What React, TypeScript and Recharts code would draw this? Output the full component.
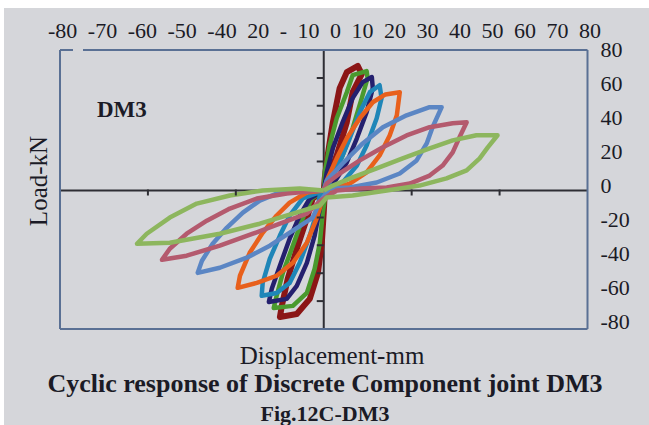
import { ComposedChart, Line, Scatter, XAxis, YAxis, ReferenceLine } from 'recharts'

// typed labels along the top of the figure (kept as printed, including the garbled ones)
const topLabels = ['-80', '-70', '-60', '-50', '-40', '20', '- 10', '0', '10', '20', '30', '40', '50', '60', '70', '80']
const loadTicks = [-80, -60, -40, -20, 0, 20, 40, 60, 80]

// small tick marks on the centre axes (original spreadsheet axis: +-60 mm, +-100 kN)
const innerTicksX = [-40, -20, 20, 40]
const innerTicksY = [-80, -60, -40, -20, 20, 40, 60, 80]

// hysteresis cycles, displacement (mm) / load (kN)
const cycle1 = [
  { x: 0, y: 0 }, { x: 0.3, y: 7.1 }, { x: 1.2, y: 20.6 }, { x: 2.8, y: 40.1 }, { x: 4.9, y: 60.2 },
  { x: 7.1, y: 69.6 }, { x: 10.5, y: 73.2 }, { x: 11.7, y: 68.4 }, { x: 8.9, y: 57.8 }, { x: 7.1, y: 40.1 },
  { x: 4, y: 20.6 }, { x: 1.2, y: 7.1 }, { x: 0.3, y: -2 }, { x: 0, y: -13 }, { x: -0.6, y: -30.7 },
  { x: -1.8, y: -48.4 }, { x: -4.3, y: -63.7 }, { x: -8.3, y: -72.6 }, { x: -13.5, y: -74.3 }, { x: -12.9, y: -67.8 },
  { x: -11.1, y: -51.9 }, { x: -8.3, y: -34.2 }, { x: -5.2, y: -16.5 }, { x: -3.4, y: -4.7 }, { x: 0, y: 0 },
]
const cycle2 = [
  { x: 0, y: 0 }, { x: 0.3, y: 10.6 }, { x: 1.8, y: 26.5 }, { x: 4, y: 42.5 }, { x: 7.1, y: 57.8 },
  { x: 8.9, y: 67.8 }, { x: 13.2, y: 70.2 }, { x: 13.5, y: 66.1 }, { x: 11.7, y: 54.3 }, { x: 8.9, y: 36.6 },
  { x: 5.8, y: 20.6 }, { x: 2.8, y: 8.8 }, { x: 0.5, y: -3 }, { x: -0.3, y: -13 }, { x: -1.2, y: -30.7 },
  { x: -2.8, y: -46 }, { x: -5.2, y: -60.2 }, { x: -9.5, y: -67.8 }, { x: -15.4, y: -69 }, { x: -14.5, y: -61.9 },
  { x: -12.6, y: -48.4 }, { x: -9.5, y: -32.4 }, { x: -6.5, y: -16.5 }, { x: -3.7, y: -4.7 }, { x: 0, y: 0 },
]
const cycle3 = [
  { x: 0, y: 0 }, { x: 0.9, y: 10.6 }, { x: 2.8, y: 24.8 }, { x: 5.8, y: 40.1 }, { x: 8.9, y: 54.3 },
  { x: 12, y: 63.7 }, { x: 14.8, y: 66.7 }, { x: 15.1, y: 60.2 }, { x: 13.2, y: 46 }, { x: 10.2, y: 30.7 },
  { x: 7.1, y: 16.5 }, { x: 4, y: 7.1 }, { x: 1, y: -1 }, { x: -0.3, y: -2.9 }, { x: -1.2, y: -10.6 },
  { x: -2.8, y: -26.5 }, { x: -5.2, y: -42.5 }, { x: -8.3, y: -56 }, { x: -11.4, y: -63.7 }, { x: -16.9, y: -65.5 },
  { x: -16, y: -57.8 }, { x: -13.5, y: -44.2 }, { x: -10.5, y: -28.3 }, { x: -7.4, y: -14.7 }, { x: -4.3, y: -4.7 },
  { x: 0, y: 0 },
]
const cycle4 = [
  { x: 0, y: 0 }, { x: 1.8, y: 4.7 }, { x: 4.9, y: 16.5 }, { x: 8, y: 30.7 }, { x: 11.1, y: 46 },
  { x: 14.2, y: 57.8 }, { x: 17.2, y: 61.9 }, { x: 17.8, y: 54.3 }, { x: 16.3, y: 42.5 }, { x: 13.2, y: 26.5 },
  { x: 10.2, y: 14.7 }, { x: 5.8, y: 4.7 }, { x: 1.5, y: -0.5 }, { x: -1.2, y: -2.9 }, { x: -2.2, y: -13 },
  { x: -4.3, y: -26.5 }, { x: -7.4, y: -42.5 }, { x: -10.5, y: -54.3 }, { x: -14.5, y: -60.2 }, { x: -19.1, y: -61.9 },
  { x: -18.8, y: -54.3 }, { x: -16.6, y: -40.1 }, { x: -13.5, y: -26.5 }, { x: -10.5, y: -14.7 }, { x: -6.5, y: -4.7 },
  { x: 0, y: 0 },
]
const cycle5 = [
  { x: 0, y: 0 }, { x: 1.2, y: 7.1 }, { x: 4, y: 18.9 }, { x: 7.1, y: 30.7 }, { x: 11.1, y: 42.5 },
  { x: 15.1, y: 51.9 }, { x: 19, y: 56.5 }, { x: 23.4, y: 57.8 }, { x: 22.5, y: 44.2 }, { x: 20.3, y: 32.4 },
  { x: 17.2, y: 20.6 }, { x: 13.2, y: 10.6 }, { x: 8, y: 4.1 }, { x: 2.8, y: 1.2 }, { x: -0.3, y: -4.7 },
  { x: -2.2, y: -16.5 }, { x: -5.2, y: -30.7 }, { x: -9.5, y: -42.5 }, { x: -14.5, y: -50.1 }, { x: -20.6, y: -54.3 },
  { x: -26.5, y: -57.2 }, { x: -25.8, y: -50.1 }, { x: -22.8, y: -36.6 }, { x: -18.8, y: -24.8 }, { x: -14.5, y: -14.7 },
  { x: -10.5, y: -7.1 }, { x: -5.2, y: -1.2 }, { x: 0, y: 0 },
]
const cycle6 = [
  { x: 0, y: 0 }, { x: 0.9, y: 5.9 }, { x: 5.8, y: 15.9 }, { x: 12, y: 27.7 }, { x: 18.2, y: 37.2 },
  { x: 25.5, y: 44.2 }, { x: 32.6, y: 49 }, { x: 36.3, y: 49 }, { x: 33.5, y: 37.2 }, { x: 31.7, y: 27.7 },
  { x: 28.6, y: 17.7 }, { x: 23.4, y: 10 }, { x: 16.3, y: 4.7 }, { x: 8, y: 1.8 }, { x: 1.8, y: 1.2 },
  { x: -1, y: -6 }, { x: -3.4, y: -15.9 }, { x: -9.5, y: -23.6 }, { x: -16.6, y: -32.4 }, { x: -23.7, y: -39.5 },
  { x: -32, y: -45.4 }, { x: -38.8, y: -48.4 }, { x: -37.5, y: -41.3 }, { x: -34.2, y: -31.3 }, { x: -29.8, y: -21.8 },
  { x: -24.9, y: -13 }, { x: -19.7, y: -5.9 }, { x: -14.5, y: -1.8 }, { x: -7.4, y: 0 }, { x: 0, y: 0 },
]
const cycle7 = [
  { x: 0, y: 0 }, { x: 0.9, y: 4.1 }, { x: 4.9, y: 10 }, { x: 11.1, y: 17.7 }, { x: 18.2, y: 25.4 },
  { x: 25.5, y: 32.4 }, { x: 32.6, y: 37.2 }, { x: 39.7, y: 39.5 }, { x: 44, y: 40.1 }, { x: 41.8, y: 31.3 },
  { x: 39.7, y: 22.4 }, { x: 36.6, y: 14.7 }, { x: 32.6, y: 8.8 }, { x: 26.5, y: 4.1 }, { x: 19.4, y: 1.8 },
  { x: 11.1, y: 1.2 }, { x: 4, y: 0 }, { x: -1, y: -6 }, { x: -5.2, y: -13.6 }, { x: -13.5, y: -19.5 },
  { x: -21.8, y: -25.4 }, { x: -32, y: -32.4 }, { x: -42.2, y: -38.3 }, { x: -49.8, y: -40.7 }, { x: -47.4, y: -34.2 },
  { x: -42.2, y: -25.4 }, { x: -36, y: -17.7 }, { x: -28.9, y: -10.6 }, { x: -20.6, y: -4.7 }, { x: -11.4, y: -1.8 },
  { x: -1.2, y: 0 }, { x: 0, y: 0 },
]
const cycle8 = [
  { x: 0, y: 0 }, { x: 2.8, y: 2.9 }, { x: 8.9, y: 7.7 }, { x: 16.3, y: 13 }, { x: 24.3, y: 18.9 },
  { x: 32.6, y: 24.8 }, { x: 39.7, y: 29.5 }, { x: 47, y: 32.5 }, { x: 53.5, y: 32.5 }, { x: 50.5, y: 25.4 },
  { x: 48, y: 18.9 }, { x: 44, y: 11.8 }, { x: 37.8, y: 7.1 }, { x: 29.5, y: 2.9 }, { x: 19.4, y: 0 },
  { x: 8.9, y: -2.9 }, { x: 0.9, y: -4.1 }, { x: -1.2, y: -8.8 }, { x: -9.5, y: -13.6 }, { x: -19.7, y: -19.5 },
  { x: -32, y: -25.4 }, { x: -47.4, y: -30.7 }, { x: -57.5, y: -31.3 }, { x: -54.5, y: -25.4 }, { x: -47.4, y: -15.9 },
  { x: -39.1, y: -7.7 }, { x: -28.9, y: -2.9 }, { x: -18.8, y: 0 }, { x: -7.4, y: 1.2 }, { x: 0, y: 0 },
]

const cycles = [cycle1, cycle2, cycle3, cycle4, cycle5, cycle6, cycle7, cycle8]
const cycleColors = ['#8b1616', '#4a9a2e', '#24206e', '#1f86b8', '#e8601c', '#5b86c4', '#b45a6e', '#8db65e']

const boxColor = '#5a7094'
const axisColor = '#2e2e34'
const textColor = '#1b1b26'
const serif = '"Liberation Serif", "Times New Roman", serif'

const tickMarksX = innerTicksX.map((v) => ({ ex: v, ey: 0 }))
const tickMarksY = innerTicksY.map((v) => ({ ex: 0, ey: v }))

const DownTick = (p: any) => <line x1={p.cx} y1={p.cy} x2={p.cx} y2={p.cy + 6} stroke={axisColor} strokeWidth={2} />
const LeftTick = (p: any) => <line x1={p.cx} y1={p.cy} x2={p.cx - 7} y2={p.cy} stroke={axisColor} strokeWidth={2} />

export default function App() {
  return (
    <div style={{ position: 'absolute', left: 0, top: 0, width: 649, height: 425, background: '#fff', overflow: 'hidden', fontFamily: serif }}>
      <div style={{ position: 'absolute', left: 4, top: 8, right: 0, bottom: 0, background: '#d5d6da' }} />
      <ComposedChart
        width={649}
        height={425}
        margin={{ top: 49, right: 11.5, bottom: 95, left: 59 }}
        style={{ position: 'absolute', left: 0, top: 0 }}
      >
        <XAxis dataKey="x" type="number" domain={[-81.2, 81.2]} allowDataOverflow tick={false} tickLine={false} height={1}
          axisLine={{ stroke: boxColor, strokeWidth: 2 }} />
        <XAxis xAxisId="ex" dataKey="ex" orientation="top" type="number" domain={[-60, 60]} allowDataOverflow tick={false} tickLine={false} height={1}
          axisLine={{ stroke: boxColor, strokeWidth: 2, strokeDasharray: '13 10 600' }} />
        <YAxis type="number" domain={[-81.4, 82.6]} allowDataOverflow tick={false} tickLine={false} width={1}
          axisLine={{ stroke: boxColor, strokeWidth: 2 }} />
        <YAxis yAxisId="ex" dataKey="ey" type="number" domain={[-100, 100]} allowDataOverflow hide />
        <YAxis yAxisId="lab" orientation="right" type="number" domain={[-84.8, 79.8]} allowDataOverflow ticks={loadTicks} interval={0}
          tickLine={false} tickMargin={7} width={50} axisLine={{ stroke: boxColor, strokeWidth: 2 }}
          tick={{ fill: textColor, fontSize: 22, fontFamily: serif }} />

        <ReferenceLine x={0} stroke={axisColor} strokeWidth={2} />
        <ReferenceLine y={0} stroke={axisColor} strokeWidth={2} />
        <Scatter data={tickMarksX} dataKey="ey" xAxisId="ex" yAxisId="ex" shape={DownTick} isAnimationActive={false} />
        <Scatter data={tickMarksY} dataKey="ey" xAxisId="ex" yAxisId="ex" shape={LeftTick} isAnimationActive={false} />

        {cycles.map((c, i) => (
          <Line key={i} data={c} dataKey="y" type="linear" stroke={cycleColors[i]}
            strokeWidth={i === 0 ? 6 : 4.5} strokeLinejoin="round" dot={false} isAnimationActive={false} />
        ))}
      </ComposedChart>

      <svg width={649} height={425} style={{ position: 'absolute', left: 0, top: 0, pointerEvents: 'none' }}
        fontFamily={serif} fill={textColor}>
        <text x={48} y={38} fontSize={22} wordSpacing={5}>{topLabels.join(' ')}</text>
        <text x={97} y={117} fontSize={23} fontWeight="bold">DM3</text>
        <text transform="translate(47,181) rotate(-90)" textAnchor="middle" fontSize={25}>Load-kN</text>
        <text x={332} y={364} textAnchor="middle" fontSize={25}>Displacement-mm</text>
        <text x={325} y={392} textAnchor="middle" fontSize={26} fontWeight="bold">Cyclic response of Discrete Component joint DM3</text>
        <text x={325} y={421} textAnchor="middle" fontSize={22} fontWeight="bold">Fig.12C-DM3</text>
      </svg>
    </div>
  )
}
